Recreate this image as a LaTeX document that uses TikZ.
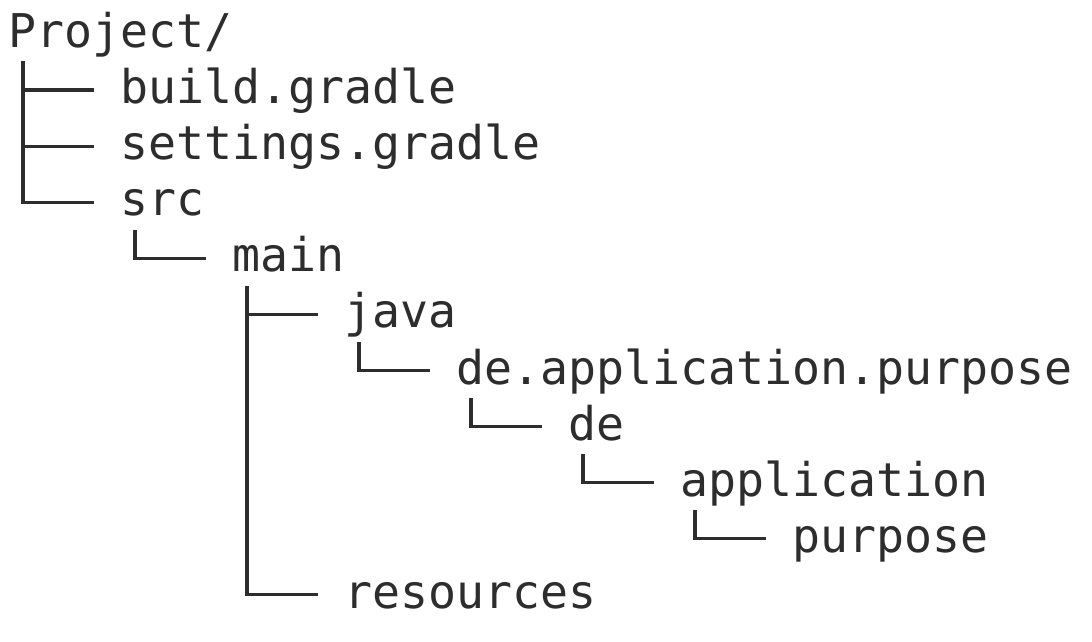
\documentclass[tikz,border=0pt]{standalone}
\usepackage{fontspec}
\setmonofont{DejaVu Sans Mono}
\usetikzlibrary{calc}
\definecolor{treeink}{RGB}{45,45,45}

\begin{document}
\begin{tikzpicture}[x=0.75pt,y=0.75pt,yscale=-1,xscale=1,
    entry/.style={anchor=base west,inner sep=0pt,text=treeink,font=\ttfamily\fontsize{34.9}{42}\selectfont},
    branch/.style={draw=treeink,line width=2.3pt}]
    %set diagram to the size of the page
    \useasboundingbox (0,0) rectangle (1092,642);

    % Text Node
    \draw (8,47.4) node [entry] (project) {Project/};
    % Text Node
    \draw (120,103.5) node [entry] (build) {build.gradle};
    % Text Node
    \draw (120,159.6) node [entry] (settings) {settings.gradle};
    % Text Node
    \draw (120,215.7) node [entry] (src) {src};
    % Text Node
    \draw (232,271.8) node [entry] (main) {main};
    % Text Node
    \draw (344,327.9) node [entry] (java) {java};
    % Text Node
    \draw (456,384.0) node [entry] (package) {de.application.purpose};
    % Text Node
    \draw (568,440.1) node [entry] (de) {de};
    % Text Node
    \draw (680,496.2) node [entry] (application) {application};
    % Text Node
    \draw (792,552.3) node [entry] (purpose) {purpose};
    % Text Node
    \draw (344,608.4) node [entry] (resources) {resources};

    %Tree Lines
    \draw [branch] ($(project.base west)+(15,14)$) |- ($(build.base west)+(-26,-13.5)$);
    \draw [branch] ($(project.base west)+(15,14)$) |- ($(settings.base west)+(-26,-13.5)$);
    \draw [branch] ($(project.base west)+(15,14)$) |- ($(src.base west)+(-26,-13.5)$);
    \draw [branch] ($(src.base west)+(15,14)$) |- ($(main.base west)+(-26,-13.5)$);
    \draw [branch] ($(main.base west)+(15,14)$) |- ($(java.base west)+(-26,-13.5)$);
    \draw [branch] ($(main.base west)+(15,14)$) |- ($(resources.base west)+(-26,-13.5)$);
    \draw [branch] ($(java.base west)+(15,14)$) |- ($(package.base west)+(-26,-13.5)$);
    \draw [branch] ($(package.base west)+(15,14)$) |- ($(de.base west)+(-26,-13.5)$);
    \draw [branch] ($(de.base west)+(15,14)$) |- ($(application.base west)+(-26,-13.5)$);
    \draw [branch] ($(application.base west)+(15,14)$) |- ($(purpose.base west)+(-26,-13.5)$);

\end{tikzpicture}
\end{document}
